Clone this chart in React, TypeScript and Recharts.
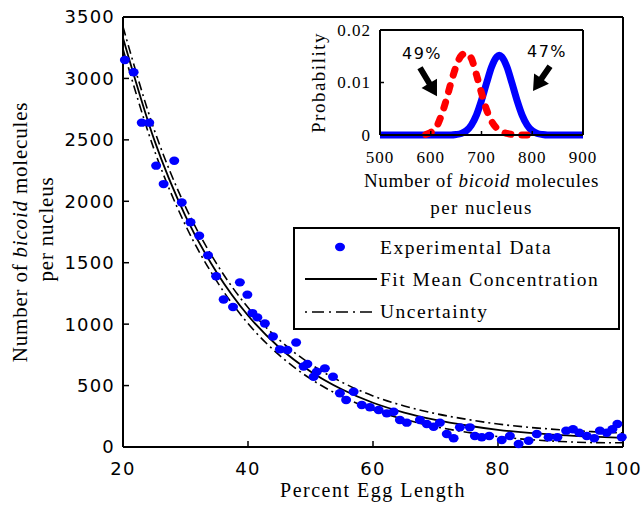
import React from 'react';
import { ComposedChart, LineChart, Line, Scatter, XAxis, YAxis, Legend, ReferenceLine } from 'recharts';

// ---------- Main chart data ----------
const expX = [20.3, 21.7, 23.0, 24.2, 25.3, 26.5, 28.2, 29.4, 30.8, 32.2, 33.6, 34.9, 36.1, 37.6, 38.7, 39.9, 40.7, 41.5, 42.7, 44.0, 45.1, 46.3, 47.7, 48.9, 49.5, 50.5, 51.0, 52.3, 53.6, 54.7, 55.7, 56.9, 58.2, 59.5, 60.9, 62.2, 63.3, 64.3, 65.4, 67.5, 68.6, 69.7, 70.7, 71.8, 72.9, 73.9, 75.5, 76.3, 77.4, 78.6, 80.6, 81.9, 83.3, 84.9, 86.2, 88.1, 89.5, 90.9, 92.0, 93.0, 94.2, 95.4, 96.3, 97.4, 98.3, 99.1, 99.8];
const expY = [3150, 3050, 2640, 2640, 2290, 2140, 2330, 1990, 1830, 1720, 1560, 1390, 1200, 1140, 1340, 1240, 1090, 1055, 1005, 900, 795, 790, 850, 655, 675, 572, 613, 640, 572, 437, 382, 450, 342, 323, 301, 274, 287, 220, 198, 220, 187, 165, 198, 106, 71, 160, 160, 90, 79, 90, 57, 90, 24, 51, 106, 79, 79, 133, 144, 116, 90, 71, 133, 116, 144, 187, 79];

const fitX = [20, 25, 30, 35, 40, 45, 50, 55, 60, 65, 70, 75, 80, 85, 90, 95, 100];
const fitMean = [3330, 2500, 1880, 1420, 1070, 810, 615, 470, 360, 280, 220, 175, 140, 115, 97, 84, 74];
const fitUpper = [3420, 2582, 1955, 1490, 1135, 872, 675, 528, 416, 334, 272, 225, 187, 160, 140, 125, 114];
const fitLower = [3240, 2418, 1805, 1350, 1005, 748, 555, 412, 304, 225, 165, 120, 85, 60, 45, 36, 34];

const xTicks = [20, 40, 60, 80, 100];
const yTicks = [0, 500, 1000, 1500, 2000, 2500, 3000, 3500];

const legendLabels = ['Experimental Data', 'Fit Mean Concentration', 'Uncertainty'];

// ---------- Inset data ----------
const redX = [590, 600, 610, 620, 630, 640, 650, 660, 670, 680, 690, 700, 710, 720, 730, 740, 750, 760, 770, 780, 790];
const redP = [0.0001, 0.0005, 0.0013, 0.0035, 0.0065, 0.0100, 0.0131, 0.0151, 0.0156, 0.0146, 0.0115, 0.0080, 0.0048, 0.0026, 0.0013, 0.0006, 0.0003, 0.0001, 0, 0, 0];
const blueX = [500, 550, 600, 640, 650, 660, 670, 680, 690, 700, 710, 720, 730, 735, 740, 750, 760, 770, 780, 790, 800, 810, 820, 830, 850, 900];
const blueP = [0, 0, 0, 0, 0.0001, 0.0003, 0.0008, 0.0019, 0.0038, 0.0066, 0.0099, 0.0130, 0.0149, 0.0152, 0.0149, 0.0130, 0.0099, 0.0066, 0.0038, 0.0019, 0.0008, 0.0003, 0.0001, 0, 0, 0];
const insetXTicks = [500, 600, 700, 800, 900];
const insetYTicks = [0, 0.01, 0.02];
const arrow49 = { label: '49%', from: { x: 578.8, y: 0.0128 }, to: { x: 612.3, y: 0.0074 } };
const arrow47 = { label: '47%', from: { x: 835, y: 0.0131 }, to: { x: 801.5, y: 0.0084 } };

const expData = expX.map((x, i) => ({ x, y: expY[i] }));
const fitData = fitX.map((x, i) => ({ x, mean: fitMean[i], upper: fitUpper[i], lower: fitLower[i] }));
const redData = redX.map((x, i) => ({ x, p: redP[i] }));
const blueData = blueX.map((x, i) => ({ x, p: blueP[i] }));

const SANS = '"DejaVu Sans", sans-serif';
const SERIF = '"Liberation Serif", "Times New Roman", serif';
const AXIS = { stroke: '#000', strokeWidth: 2 };
const TICKLINE = { stroke: '#000', strokeWidth: 1.5 };

const MainXTick = (p: any) => (
  <text x={p.x} y={p.y} dy="0.36em" textAnchor="middle" fontFamily={SANS} fontSize={18} letterSpacing={1.2} fill="#000">
    {p.payload.value}
  </text>
);
const MainYTick = (p: any) => (
  <text x={p.x} y={p.y} dy="0.36em" textAnchor="end" fontFamily={SANS} fontSize={18} letterSpacing={1.2} fill="#000">
    {p.payload.value}
  </text>
);
const InsetXTick = (p: any) => (
  <text x={p.x} y={p.y} dy="0.35em" textAnchor="middle" fontFamily={SERIF} fontSize={17} letterSpacing={1} fill="#000">
    {p.payload.value}
  </text>
);
const InsetYTick = (p: any) => (
  <text x={p.x} y={p.y} dy="0.35em" textAnchor="end" fontFamily={SERIF} fontSize={17} letterSpacing={1} fill="#000">
    {p.payload.value === 0 ? '0' : String(p.payload.value)}
  </text>
);

const MainXLabel = (p: any) => {
  const vb = p.viewBox || { x: 123, y: 447, width: 500, height: 59 };
  return (
    <text x={vb.x + vb.width / 2} y={vb.y + 50} textAnchor="middle" fontFamily={SERIF} fontSize={20} letterSpacing={1.5} fill="#000">
      Percent Egg Length
    </text>
  );
};

const MainYLabel = (p: any) => {
  const vb = p.viewBox || { x: 0, y: 17, width: 123, height: 430 };
  const cy = vb.y + vb.height / 2;
  const x1 = vb.x + 27;
  const x2 = vb.x + 53;
  return (
    <g fontFamily={SERIF} fontSize={21} fill="#000" letterSpacing={0.8}>
      <text x={x1} y={cy} textAnchor="middle" transform={`rotate(-90, ${x1}, ${cy})`}>
        Number of <tspan fontStyle="italic">bicoid</tspan> molecules
      </text>
      <text x={x2} y={cy - 3} textAnchor="middle" transform={`rotate(-90, ${x2}, ${cy - 3})`}>
        per nucleus
      </text>
    </g>
  );
};

const InsetXLabel = (p: any) => {
  const vb = p.viewBox || { x: 90, y: 115, width: 203, height: 90 };
  const cx = vb.x + vb.width / 2;
  return (
    <g fontFamily={SERIF} fontSize={19} fill="#000" letterSpacing={0.7}>
      <text x={cx} y={vb.y + 52} textAnchor="middle">
        Number of <tspan fontStyle="italic">bicoid</tspan> molecules
      </text>
      <text x={cx} y={vb.y + 79} textAnchor="middle" letterSpacing={1.4}>per nucleus</text>
    </g>
  );
};

const InsetYLabel = (p: any) => {
  const vb = p.viewBox || { x: 0, y: 10, width: 90, height: 105 };
  const cy = vb.y + vb.height / 2;
  const x = vb.x + 35;
  return (
    <text x={x} y={cy} textAnchor="middle" transform={`rotate(-90, ${x}, ${cy})`} fontFamily={SERIF} fontSize={19} letterSpacing={1.5} fill="#000">
      Probability
    </text>
  );
};

const makeArrow = (label: string, tdx: number) => (props: any) => {
  const { x1, y1, x2, y2 } = props;
  if ([x1, y1, x2, y2].some((v) => typeof v !== 'number' || isNaN(v))) return null;
  const dx = x2 - x1;
  const dy = y2 - y1;
  const len = Math.hypot(dx, dy) || 1;
  const ux = dx / len;
  const uy = dy / len;
  const px = -uy;
  const py = ux;
  const hl = 15;
  const hw = 9;
  const sw = 3;
  const bx = x2 - ux * hl;
  const by = y2 - uy * hl;
  const pts = [
    [x1 + px * sw, y1 + py * sw],
    [bx + px * sw, by + py * sw],
    [bx + px * hw, by + py * hw],
    [x2, y2],
    [bx - px * hw, by - py * hw],
    [bx - px * sw, by - py * sw],
    [x1 - px * sw, y1 - py * sw],
  ]
    .map((q) => q.join(','))
    .join(' ');
  return (
    <g>
      <polygon points={pts} fill="#000" />
      <text x={x1 + tdx} y={y1 - 9} textAnchor="middle" fontFamily={SANS} fontSize={16} letterSpacing={1.5} fill="#000">
        {label}
      </text>
    </g>
  );
};

const renderLegend = () => (
  <div style={{ width: 327, height: 103, boxSizing: 'border-box', border: '2px solid #000', background: '#fff' }}>
    <svg width={323} height={99} style={{ display: 'block' }}>
      <ellipse cx={45} cy={18} rx={5} ry={4.2} fill="#0000ff" />
      <line x1={10} y1={50} x2={82} y2={50} stroke="#000" strokeWidth={1.8} />
      <line x1={10} y1={83} x2={82} y2={83} stroke="#000" strokeWidth={1.6} strokeDasharray="2 5 12 5" />
      <g fontFamily={SERIF} fontSize={19.5} letterSpacing={1.5} fill="#000">
        <text x={85} y={25}>{legendLabels[0]}</text>
        <text x={85} y={57}>{legendLabels[1]}</text>
        <text x={85} y={89}>{legendLabels[2]}</text>
      </g>
    </svg>
  </div>
);

export default function App() {
  return (
    <div style={{ position: 'absolute', left: 0, top: 0, width: 642, height: 506, background: '#fff' }}>
      <div style={{ position: 'absolute', left: 0, top: 0 }}>
        <ComposedChart width={642} height={506} data={fitData} margin={{ top: 0, right: 0, bottom: 0, left: 0 }}>
          <XAxis
            xAxisId="b"
            dataKey="x"
            type="number"
            domain={[20, 100]}
            ticks={xTicks}
            interval={0}
            orientation="bottom"
            height={59}
            tickSize={-6}
            tickMargin={28}
            axisLine={AXIS}
            tickLine={TICKLINE}
            tick={MainXTick}
            label={<MainXLabel />}
          />
          <XAxis
            xAxisId="t"
            type="number"
            domain={[20, 100]}
            ticks={xTicks}
            interval={0}
            orientation="top"
            height={17}
            tickSize={-6}
            axisLine={AXIS}
            tickLine={TICKLINE}
            tick={false}
          />
          <YAxis
            yAxisId="l"
            type="number"
            domain={[0, 3500]}
            ticks={yTicks}
            interval={0}
            width={123}
            tickSize={-6}
            tickMargin={14}
            axisLine={AXIS}
            tickLine={TICKLINE}
            tick={MainYTick}
            label={<MainYLabel />}
          />
          <YAxis
            yAxisId="r"
            orientation="right"
            type="number"
            domain={[0, 3500]}
            ticks={yTicks}
            interval={0}
            width={19}
            tickSize={-6}
            axisLine={AXIS}
            tickLine={TICKLINE}
            tick={false}
          />
          <Line xAxisId="b" yAxisId="l" dataKey="upper" name="Uncertainty" type="monotone" stroke="#000" strokeWidth={1.6} strokeDasharray="9 4 2 4" dot={false} activeDot={false} isAnimationActive={false} />
          <Line xAxisId="b" yAxisId="l" dataKey="lower" name="Uncertainty (lower)" type="monotone" stroke="#000" strokeWidth={1.6} strokeDasharray="9 4 2 4" dot={false} activeDot={false} isAnimationActive={false} legendType="none" />
          <Line xAxisId="b" yAxisId="l" dataKey="mean" name="Fit Mean Concentration" type="monotone" stroke="#000" strokeWidth={1.8} dot={false} activeDot={false} isAnimationActive={false} />
          <Scatter
            xAxisId="b"
            yAxisId="l"
            name="Experimental Data"
            data={expData}
            dataKey="y"
            fill="#0000ff"
            isAnimationActive={false}
            shape={(p: any) => <ellipse cx={p.cx} cy={p.cy} rx={5} ry={4.2} fill="#0000ff" />}
          />
          <Legend
            layout="horizontal"
            verticalAlign="middle"
            align="center"
            content={renderLegend}
            wrapperStyle={{ position: 'absolute', left: 293, top: 227, width: 327, height: 103, margin: 0, padding: 0 }}
          />
        </ComposedChart>
      </div>
      <div style={{ position: 'absolute', left: 290, top: 20 }}>
        <LineChart width={310} height={205} margin={{ top: 0, right: 0, bottom: 0, left: 0 }}>
          <XAxis
            xAxisId="b"
            dataKey="x"
            type="number"
            domain={[500, 900]}
            ticks={insetXTicks}
            interval={0}
            height={90}
            tickSize={-4}
            tickMargin={26}
            axisLine={AXIS}
            tickLine={TICKLINE}
            tick={InsetXTick}
            label={<InsetXLabel />}
          />
          <XAxis
            xAxisId="t"
            type="number"
            orientation="top"
            domain={[500, 900]}
            ticks={insetXTicks}
            interval={0}
            height={10}
            tickSize={-4}
            axisLine={AXIS}
            tickLine={TICKLINE}
            tick={false}
          />
          <YAxis
            yAxisId="l"
            type="number"
            domain={[0, 0.02]}
            ticks={insetYTicks}
            interval={0}
            width={90}
            tickSize={-4}
            tickMargin={13}
            axisLine={AXIS}
            tickLine={TICKLINE}
            tick={InsetYTick}
            label={<InsetYLabel />}
          />
          <YAxis
            yAxisId="r"
            type="number"
            orientation="right"
            domain={[0, 0.02]}
            ticks={insetYTicks}
            interval={0}
            width={17}
            tickSize={-4}
            axisLine={AXIS}
            tickLine={TICKLINE}
            tick={false}
          />
          <Line xAxisId="b" yAxisId="l" data={blueData} dataKey="p" type="monotone" stroke="#0000ff" strokeWidth={7} dot={false} activeDot={false} isAnimationActive={false} />
          <Line xAxisId="b" yAxisId="l" data={redData} dataKey="p" type="monotone" stroke="#ff0000" strokeWidth={7} strokeDasharray="6 11" strokeLinecap="round" dot={false} activeDot={false} isAnimationActive={false} />
          <ReferenceLine xAxisId="b" yAxisId="l" segment={[arrow49.from, arrow49.to]} shape={makeArrow(arrow49.label, 2)} />
          <ReferenceLine xAxisId="b" yAxisId="l" segment={[arrow47.from, arrow47.to]} shape={makeArrow(arrow47.label, -3)} />
        </LineChart>
      </div>
    </div>
  );
}
